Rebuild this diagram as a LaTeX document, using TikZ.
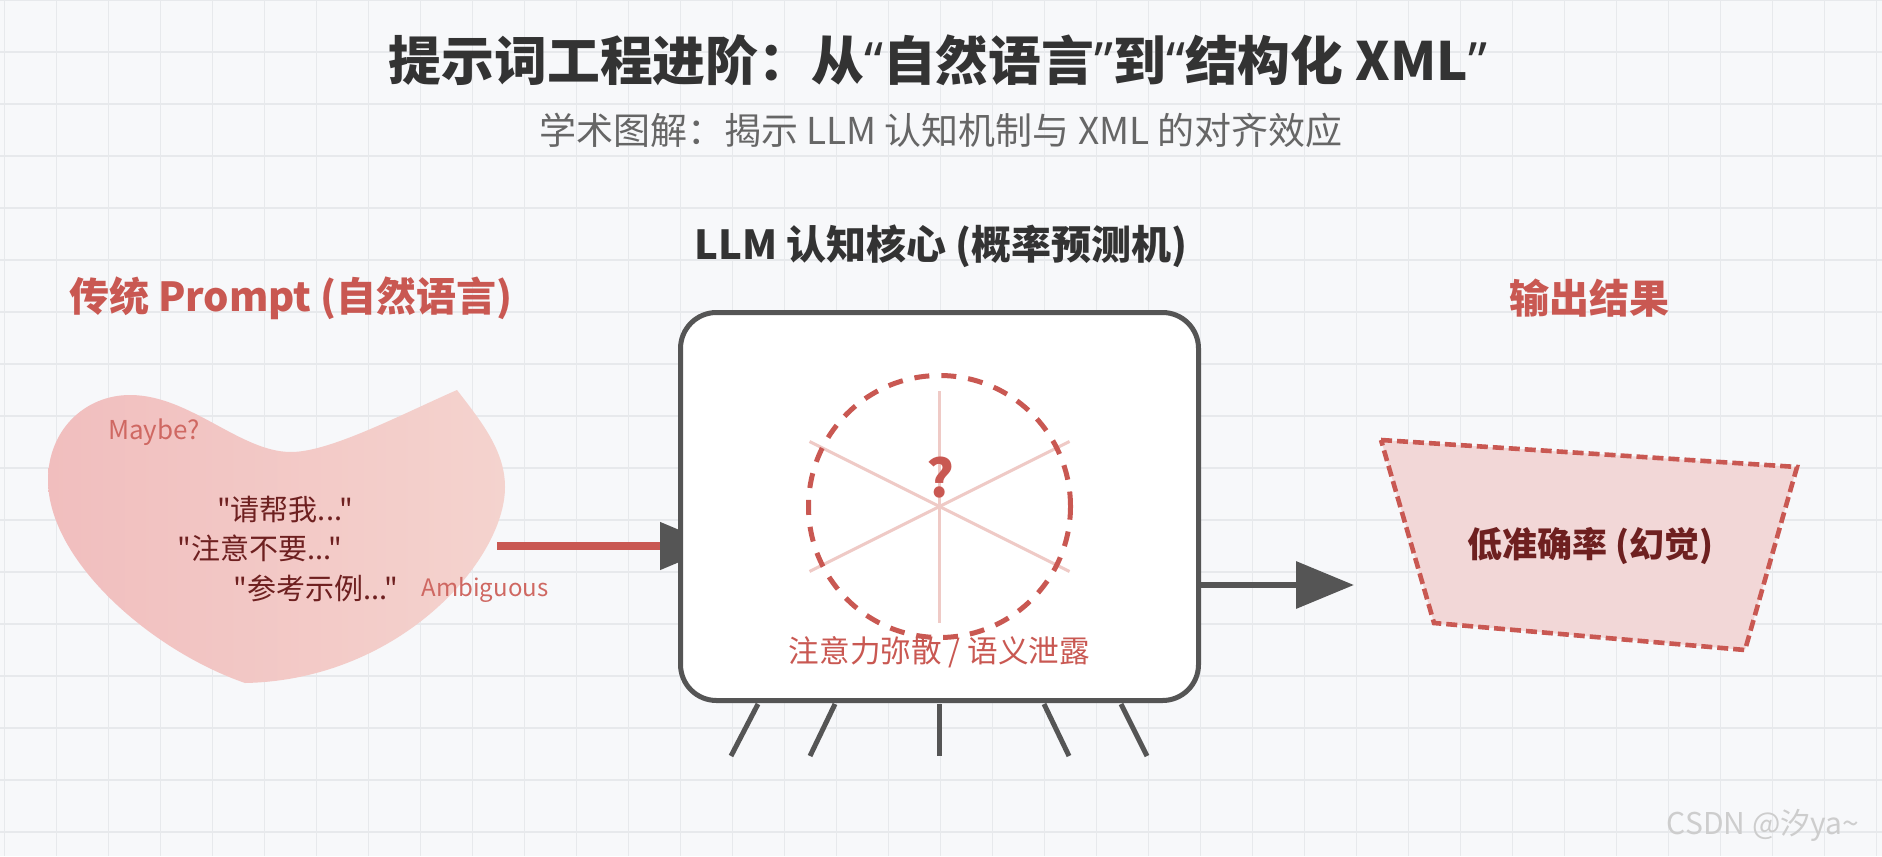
\documentclass[tikz,border=0pt]{standalone}
\usepackage{fontspec}
\setmainfont{Noto Sans CJK SC}[Ligatures=TeXOff]
\newfontfamily\quotefont{Noto Sans}[Ligatures=TeXOff]
\usetikzlibrary{arrows.meta,positioning,calc}
\definecolor{xmlPaper}{RGB}{247,248,250}
\definecolor{xmlGrid}{RGB}{231,233,236}
\definecolor{xmlInk}{RGB}{51,51,51}
\definecolor{xmlMuted}{RGB}{102,102,102}
\definecolor{xmlRed}{RGB}{201,88,82}
\definecolor{xmlSoftRed}{RGB}{207,104,98}
\definecolor{xmlDeepRed}{RGB}{110,32,32}
\definecolor{xmlSteel}{RGB}{85,85,85}
\definecolor{xmlSpoke}{RGB}{239,202,198}
\definecolor{xmlBlobLeft}{RGB}{241,190,190}
\definecolor{xmlBlobRight}{RGB}{244,211,206}
\definecolor{xmlOutFill}{RGB}{242,215,215}
\definecolor{xmlMark}{RGB}{205,205,205}
\pgfdeclarelayer{paper}
\pgfsetlayers{paper,main}

\begin{document}
\begin{tikzpicture}[
  x=0.5pt, y=-0.5pt,
  heading/.style={font=\fontsize{20}{24}\selectfont\bfseries},
  phrase/.style={font=\fontsize{14.5}{17}\selectfont, text=xmlDeepRed},
  whisper/.style={font=\fontsize{12}{14}\selectfont, text=xmlSoftRed},
  core/.style={
    draw=xmlSteel,
    line width=2.5pt,
    fill=white,
    rounded corners=18pt,
    minimum width=259pt,
    minimum height=194pt,
    inner sep=0pt
  },
  focus/.style={circle,draw=xmlRed,line width=2.5pt,dash pattern=on 7.5pt off 6pt,minimum size=131pt,inner sep=0pt},
  spoke/.style={xmlSpoke,line width=1.5pt},
  leg/.style={xmlSteel,line width=2.5pt},
  outbox/.style={draw=xmlRed,fill=xmlOutFill,line width=2.3pt,dash pattern=on 5.5pt off 2.5pt},
  feed/.style={-{Triangle[length=29pt,width=23pt,color=xmlSteel,fill=xmlSteel]},xmlRed,line width=4pt},
  result/.style={-{Triangle[length=29pt,width=23pt]},xmlSteel,line width=3.3pt}
]
  \useasboundingbox (0,0) rectangle (1882,856);
  \begin{pgfonlayer}{paper}
    \fill[xmlPaper] (0,0) rectangle (1882,856);
    \foreach \i in {0,...,36}
      \draw[xmlGrid,line width=0.6pt] (4.7+52*\i,0) -- ++(0,856);
    \foreach \j in {0,...,16}
      \draw[xmlGrid,line width=0.6pt] (0,52*\j) -- ++(1882,0);
    \shade[left color=xmlBlobLeft,right color=xmlBlobRight]
      (457,390) .. controls (480,420) and (505,450) .. (505,487)
      .. controls (505,560) and (400,680) .. (245,683)
      .. controls (150,650) and (48,560) .. (48,480)
      .. controls (48,430) and (85,395) .. (130,395)
      .. controls (190,395) and (240,452) .. (291,452)
      .. controls (330,452) and (400,415) .. (457,390) -- cycle;
  \end{pgfonlayer}

  \node[font=\fontsize{26.4}{31}\selectfont\bfseries,text=xmlInk] (title) at (938,60) {提示词工程进阶：从{\quotefont “}自然语言{\quotefont ”}到{\quotefont “}结构化 XML{\quotefont ”}};
  \node[font=\fontsize{18.5}{22}\selectfont,text=xmlMuted] (subtitle) at (941,130) {学术图解：揭示 LLM 认知机制与 XML 的对齐效应};

  \node[heading,text=xmlRed] (promptHead) at (291,298) {传统 Prompt (自然语言)};
  \node[heading,text=xmlInk] (coreHead) at (941,246) {LLM 认知核心 (概率预测机)};
  \node[heading,text=xmlRed] (outHead) at (1589,298) {输出结果};

  \node[whisper,font=\fontsize{13}{15}\selectfont] (maybe) at (154,432) {Maybe?};
  \node[phrase] (ask) at (285,510) {"请帮我..."};
  \node[phrase] (avoid) at (260,548) {"注意不要..."};
  \node[phrase] (sample) at (316,588) {"参考示例..."};
  \node[whisper] (vague) at (485,590) {Ambiguous};
  \coordinate (blobout) at (497,546);

  \node[core] (core) at (939.5,506.5) {};
  \begin{pgfonlayer}{paper}
    \draw[feed] (blobout) -- ($(blobout -| core.west)+(40,0)$);
  \end{pgfonlayer}
  \foreach \dx/\dy in {0/116,130/65,130/-65}
    \draw[spoke] ($(core.center)+(\dx,\dy)$) -- ($(core.center)-(\dx,\dy)$);
  \node[focus] (attn) at (core.center) {};
  \node[font=\fontsize{26}{30}\selectfont\bfseries,text=xmlRed] (doubt) at (940,478) {?};
  \node[font=\fontsize{15.3}{18}\selectfont,text=xmlRed] (leak) at (939.5,652) {注意力弥散 / 语义泄露};
  \foreach \top/\foot in {-181.5/-208.5,-104.5/-129.5,0/0,104.5/129.5,181.5/207.5}
    \draw[leg] ($(core.south)+(\top,1)$) -- ($(core.south)+(\foot,53)$);

  \coordinate (outtip) at (1354,585);
  \draw[result] (outtip -| core.east) -- (outtip);

  \coordinate (o1) at (1381,440);
  \coordinate (o2) at (1797,467);
  \coordinate (o3) at (1745,650);
  \coordinate (o4) at (1434,623);
  \draw[outbox] (o1) -- (o2) -- (o3) -- (o4) -- cycle;
  \node[font=\fontsize{17.5}{21}\selectfont\bfseries,text=xmlDeepRed] (lowacc) at (1590,546) {低准确率 (幻觉)};

  \node[font=\fontsize{15}{18}\selectfont,text=xmlMark] (mark) at (1763,825) {CSDN @汐ya\textasciitilde};
\end{tikzpicture}
\end{document}
